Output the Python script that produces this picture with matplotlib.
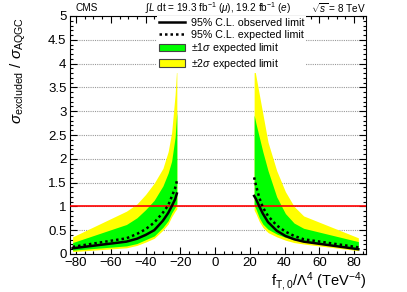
import matplotlib
matplotlib.use("Agg")
import matplotlib.pyplot as plt
from matplotlib.lines import Line2D
from matplotlib.patches import Patch
from matplotlib.ticker import MultipleLocator

plt.rcParams['font.family'] = ['Liberation Sans', 'DejaVu Sans']
plt.rcParams['mathtext.fontset'] = 'custom'
plt.rcParams['mathtext.rm'] = 'Liberation Sans'
plt.rcParams['mathtext.it'] = 'Liberation Sans:italic'
plt.rcParams['mathtext.sf'] = 'Liberation Sans'

# negative side of the scan
x_neg = [-82, -51, -45, -40, -35, -30, -27, -25, -23, -22]
obs_neg = [0.12, 0.26, 0.32, 0.40, 0.50, 0.70, 0.86, 1.00, 1.15, 1.27]
exp_neg = [0.15, 0.33, 0.42, 0.52, 0.66, 0.87, 1.02, 1.20, 1.38, 1.53]
lo1_neg = [0.08, 0.17, 0.22, 0.30, 0.38, 0.56, 0.70, 0.86, 0.98, 1.05]
hi1_neg = [0.24, 0.62, 0.76, 0.93, 1.13, 1.43, 1.70, 1.95, 2.45, 3.00]
lo2_neg = [0.05, 0.13, 0.18, 0.25, 0.33, 0.50, 0.63, 0.78, 0.90, 0.95]
hi2_neg = [0.36, 0.90, 1.05, 1.25, 1.49, 1.80, 2.15, 2.55, 3.35, 3.95]

# positive side of the scan
x_pos = [22.5, 23.5, 25.5, 27.5, 30.5, 35.5, 40.5, 45.5, 51, 82.5]
obs_pos = [1.22, 1.16, 1.00, 0.85, 0.67, 0.49, 0.38, 0.31, 0.26, 0.10]
exp_pos = [1.61, 1.45, 1.18, 0.98, 0.80, 0.60, 0.47, 0.38, 0.31, 0.14]
lo1_pos = [1.03, 0.95, 0.76, 0.63, 0.52, 0.42, 0.35, 0.30, 0.26, 0.12]
hi1_pos = [2.92, 2.75, 2.45, 2.15, 1.75, 1.20, 0.85, 0.65, 0.54, 0.26]
lo2_pos = [0.92, 0.85, 0.68, 0.56, 0.45, 0.36, 0.29, 0.24, 0.21, 0.07]
hi2_pos = [3.95, 3.75, 3.35, 2.95, 2.35, 1.75, 1.31, 1.00, 0.80, 0.34]

x_ticks = [-80, -60, -40, -20, 0, 20, 40, 60, 80]
y_ticks = [0, 0.5, 1, 1.5, 2, 2.5, 3, 3.5, 4, 4.5, 5]
y_tick_labels = ["0", "0.5", "1", "1.5", "2", "2.5", "3", "3.5", "4", "4.5", "5"]

green = "#00ff00"
yellow = "#ffff00"

fig = plt.figure(figsize=(4.07, 2.92), dpi=100)
ax = fig.add_axes([70 / 407, 38 / 292, 296 / 407, 238 / 292])

for xs, lo2, hi2, lo1, hi1 in [(x_neg, lo2_neg, hi2_neg, lo1_neg, hi1_neg),
                               (x_pos, lo2_pos, hi2_pos, lo1_pos, hi1_pos)]:
    ax.fill_between(xs, lo2, hi2, color=yellow, lw=0, zorder=2)
    ax.fill_between(xs, lo1, hi1, color=green, lw=0, zorder=3)

ax.axhline(1, color="red", lw=1.2, zorder=4)

for xs, ob, ex in [(x_neg, obs_neg, exp_neg), (x_pos, obs_pos, exp_pos)]:
    ax.plot(xs, ob, color="black", lw=1.8, zorder=5)
    ax.plot(xs, ex, color="black", lw=1.8, dashes=(1, 1.2), zorder=5)

ax.set_xlim(-83.5, 86.9)
ax.set_ylim(0, 5)
ax.set_xticks(x_ticks)
ax.set_yticks(y_ticks)
ax.set_yticklabels(y_tick_labels)
ax.xaxis.set_minor_locator(MultipleLocator(5))
ax.yaxis.set_minor_locator(MultipleLocator(0.1))
ax.tick_params(which="both", direction="in", top=True, right=True,
               labelsize=9.5, pad=2.5, width=0.8)
ax.tick_params(which="major", length=5)
ax.tick_params(which="minor", length=2.5)
ax.yaxis.grid(True, linestyle=(0, (1, 1)), color="#999999", lw=0.8)
ax.set_axisbelow(True)
for s in ax.spines.values():
    s.set_linewidth(0.8)

ax.set_xlabel(r"f$_{\mathrm{T,0}}$/$\Lambda^{4}$ (TeV$^{-4}$)", fontsize=10.5,
              loc="right", labelpad=1)
fig.text(0.045, 0.76, r"$\sigma_{\mathrm{excluded}}$ / $\sigma_{\mathrm{AQGC}}$",
         rotation=90, ha="center", va="center", fontsize=11)

fig.text(75 / 407, 1 - 8 / 292, "CMS", fontsize=7.2, va="center", ha="left")
fig.text(218 / 407, 1 - 8 / 292,
         r"$\int L$ dt = 19.3 fb$^{-1}$ ($\mu$), 19.2 fb$^{-1}$ ($e$)",
         fontsize=7.2, va="center", ha="center")
fig.text(366 / 407, 1 - 8 / 292, r"$\sqrt{s}$ = 8 TeV", fontsize=7.2,
         va="center", ha="right")

handles = [
    Line2D([], [], color="black", lw=1.8),
    Line2D([], [], color="black", lw=1.8, dashes=(1, 1.2)),
    Patch(facecolor=green, edgecolor="#444444", lw=0.8),
    Patch(facecolor=yellow, edgecolor="#444444", lw=0.8),
]
labels = ["95% C.L. observed limit", "95% C.L. expected limit",
          r"$\pm$1$\sigma$ expected limit", r"$\pm$2$\sigma$ expected limit"]
leg = ax.legend(handles, labels, loc="upper left",
                bbox_to_anchor=(157 / 407, 1 - 16 / 292),
                bbox_transform=fig.transFigure, fontsize=7.7, frameon=True,
                fancybox=False, edgecolor="none", facecolor="white",
                framealpha=1, handlelength=2.4, handletextpad=0.55,
                labelspacing=0.15, borderpad=0.2, borderaxespad=0)
leg.set_zorder(6)

fig.savefig("out.png", dpi=100)
